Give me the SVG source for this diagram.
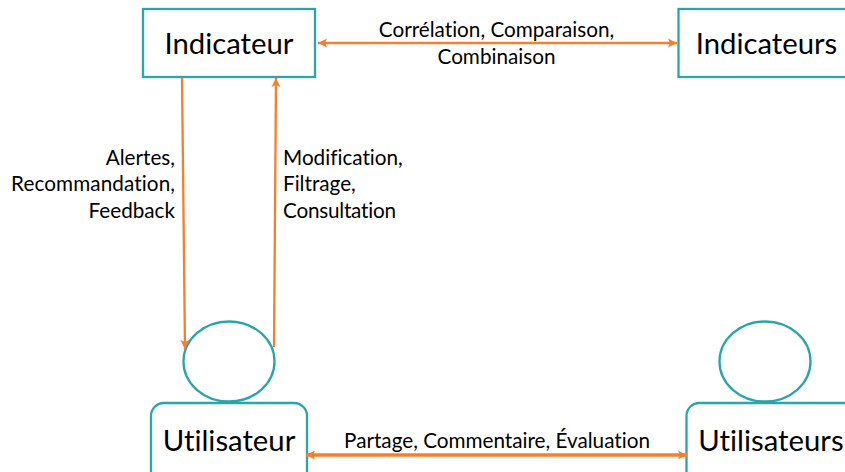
<svg xmlns="http://www.w3.org/2000/svg" width="845" height="472" viewBox="0 0 845 472">
<defs>
<marker id="a" markerUnits="userSpaceOnUse" markerWidth="11" markerHeight="11" refX="9" refY="5" orient="auto-start-reverse"><path d="M0,0.500 L9,5 L0,9.500 L2,5 Z" fill="#f47f2c"/></marker>
</defs>
<style>
.b{fill:#fff;stroke:#2ba5ab;stroke-width:2.300}
.c{fill:none;stroke:#f47f2c;stroke-width:2.300}
.d{stroke-width:3.300}
.t{font-family:Lato,"Liberation Sans",sans-serif;fill:#000;font-variant-ligatures:none}
.n{font-size:29.300px;text-anchor:middle}
.l{font-size:20.700px}
</style>
<rect width="845" height="472" fill="#fff"/>
<g id="indicateur"><rect class="b" x="143" y="9" width="172" height="68"/><text class="t n" x="229" y="54">Indicateur</text></g>
<g id="indicateurs"><rect class="b" x="678.500" y="9" width="180" height="68"/><text class="t n" x="766.500" y="54">Indicateurs</text></g>
<g id="utilisateur"><ellipse class="b" cx="229" cy="361.500" rx="45.500" ry="40"/><rect class="b" x="151" y="403" width="156" height="90" rx="13"/><text class="t n" x="229" y="451">Utilisateur</text></g>
<g id="utilisateurs"><ellipse class="b" cx="765" cy="361.500" rx="45.500" ry="40"/><rect class="b" x="686.500" y="403" width="180" height="90" rx="13"/><text class="t n" x="771" y="451">Utilisateurs</text></g>
<g id="connectors">
<path class="c" d="M318,43 H677" marker-start="url(#a)" marker-end="url(#a)"/>
<path class="c" d="M182,78 L185,349" marker-end="url(#a)"/>
<path class="c" d="M274,347 L276,78" marker-end="url(#a)"/>
<path class="c d" d="M306,455 H687" marker-start="url(#a)" marker-end="url(#a)"/>
</g>
<g id="labels" class="t l">
<text x="496.500" y="37" text-anchor="middle">Corrélation, Comparaison,</text>
<text x="496.500" y="63.500" text-anchor="middle">Combinaison</text>
<text x="175" y="164.500" text-anchor="end">Alertes,</text>
<text x="11" y="191" textLength="164" lengthAdjust="spacing">Recommandation,</text>
<text x="175" y="217.500" text-anchor="end">Feedback</text>
<text x="283" y="164.500">Modification,</text>
<text x="283" y="191">Filtrage,</text>
<text x="283" y="217.500" textLength="113" lengthAdjust="spacing">Consultation</text>
<text x="497" y="448" text-anchor="middle">Partage, Commentaire, Évaluation</text>
</g>
</svg>
